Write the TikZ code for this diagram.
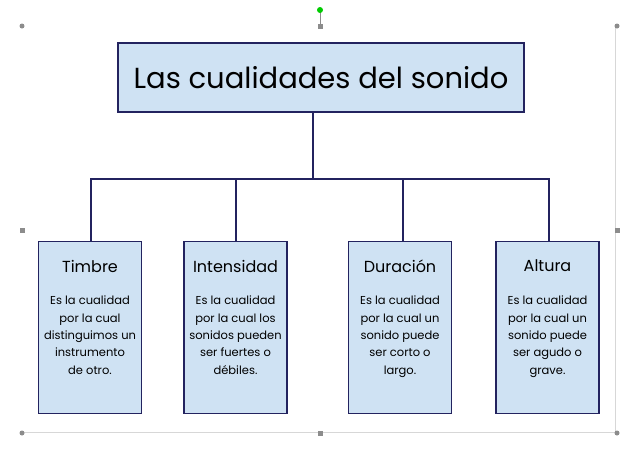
\documentclass[tikz,border=0pt]{standalone}
\usepackage{fontspec}
\setmainfont{Poppins}
\definecolor{boxfill}{RGB}{207,226,243}
\definecolor{boxline}{RGB}{35,35,95}
\definecolor{handlegray}{RGB}{140,140,140}
\definecolor{framegray}{RGB}{215,215,215}
\tikzset{
  titlebox/.style={draw=boxline, fill=boxfill, line width=1.2pt, minimum width=406pt, minimum height=69pt, font=\fontsize{29}{30}\selectfont},
  itembox/.style={draw=boxline, fill=boxfill, line width=1.2pt, minimum width=103pt, minimum height=172pt, anchor=north},
  itemhead/.style={font=\fontsize{16}{18}\selectfont},
  itemtext/.style={font=\fontsize{11.5}{17.3}\selectfont, align=center, anchor=north, inner sep=0pt},
  branch/.style={boxline, line width=1.1pt}
}
\begin{document}
\begin{tikzpicture}[x=1pt,y=-1pt]
    \useasboundingbox (0,0) rectangle (640,448);

    % selection frame
    \draw[framegray] (22,432) -- (615,432) -- (615,26);
    \draw[handlegray] (320,10) -- (320,26);
    \fill[green!80!black] (320,10) circle (3);
    \foreach \x/\y in {22/26, 617/26, 22/433, 617/433}
        \fill[handlegray] (\x,\y) circle (2.5);
    \foreach \x/\y in {320/26, 22/230, 617/230, 320/433}
        \fill[handlegray] (\x-2.5,\y-2.5) rectangle ++(5,5);

    % title
    \node[titlebox] (title) at (321,77.5) {Las cualidades del sonido};

    % boxes
    \node[itembox] (timbre) at (90,241) {};
    \node[itembox] (intens) at (235.5,241) {};
    \node[itembox] (durac) at (400,241) {};
    \node[itembox] (altura) at (547.5,241) {};

    \node[itemhead] at ([yshift=-25pt]timbre.north) {Timbre};
    \node[itemhead] at ([yshift=-25pt]intens.north) {Intensidad};
    \node[itemhead] at ([yshift=-25pt]durac.north) {Duración};
    \node[itemhead] at ([yshift=-25pt]altura.north) {Altura};

    \node[itemtext] at ([yshift=-55pt]timbre.north) {Es la cualidad\\por la cual\\distinguimos un\\instrumento\\de otro.};
    \node[itemtext] at ([yshift=-55pt]intens.north) {Es la cualidad\\por la cual los\\sonidos pueden\\ser fuertes o\\débiles.};
    \node[itemtext] at ([yshift=-55pt]durac.north) {Es la cualidad\\por la cual un\\sonido puede\\ser corto o\\largo.};
    \node[itemtext] at ([yshift=-55pt]altura.north) {Es la cualidad\\por la cual un\\sonido puede\\ser agudo o\\grave.};

    % connectors
    \coordinate (hub) at (313,179);
    \draw[branch] (title.south -| hub) -- (hub);
    \draw[branch] (hub) -| ([xshift=1pt]timbre.north);
    \draw[branch] (hub) -| ([xshift=0.5pt]intens.north);
    \draw[branch] (hub) -| ([xshift=3pt]durac.north);
    \draw[branch] (hub) -| ([xshift=1.5pt]altura.north);
\end{tikzpicture}
\end{document}
